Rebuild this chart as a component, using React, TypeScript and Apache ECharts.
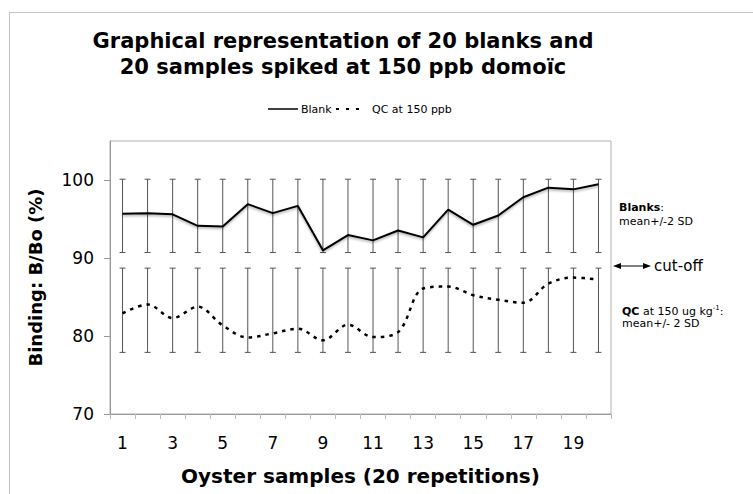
import React, { useEffect, useRef } from "react";
import * as echarts from "echarts";

const categories = ["1","2","3","4","5","6","7","8","9","10","11","12","13","14","15","16","17","18","19","20"];
const blankMean = [95.66, 95.75, 95.6, 94.13, 94.04, 96.9, 95.75, 96.68, 90.98, 92.94, 92.26, 93.53, 92.64, 96.2, 94.26, 95.45, 97.79, 99.02, 98.8, 99.45];
const qcMean = [82.9, 84.04, 82.3, 83.75, 81.36, 79.8, 80.34, 80.94, 79.45, 81.45, 79.87, 80.5, 86.09, 86.34, 85.23, 84.64, 84.26, 86.72, 87.49, 87.23];
const blankBand = [90.7, 100.1];
const qcBand = [77.9, 88.7];
const yTicks = { min: 70, max: 105, interval: 10 };

const FONT = "DejaVu Sans, Verdana, sans-serif";

export default function App() {
  const ref = useRef<HTMLDivElement>(null);
  useEffect(() => {
    if (!ref.current) return;
    const chart = echarts.init(ref.current, undefined, { renderer: "svg" });
    const errData = (band: number[]) => categories.map((_, i) => [i, band[0], band[1]]);
    const renderErr = (params: any, api: any) => {
      const i = api.value(0);
      const lo = api.coord([i, api.value(1)]);
      const hi = api.coord([i, api.value(2)]);
      const w = 3;
      const style = { stroke: "#555", lineWidth: 1 };
      return {
        type: "group",
        children: [
          { type: "line", shape: { x1: lo[0], y1: lo[1], x2: hi[0], y2: hi[1] }, style },
          { type: "line", shape: { x1: lo[0] - w, y1: lo[1], x2: lo[0] + w, y2: lo[1] }, style },
          { type: "line", shape: { x1: hi[0] - w, y1: hi[1], x2: hi[0] + w, y2: hi[1] }, style },
        ],
      };
    };
    chart.setOption({
      animation: false,
      grid: {
        left: 110, top: 141, right: 142, bottom: 80, show: true, borderColor: "#b0b0b0", borderWidth: 1,
        backgroundColor: "transparent", outerBoundsMode: "none", containLabel: false,
      },
      xAxis: {
        type: "category",
        data: categories,
        boundaryGap: true,
        name: "Oyster samples (20 repetitions)",
        nameLocation: "middle",
        nameGap: 52,
        nameTextStyle: { fontFamily: FONT, fontWeight: "bold", fontSize: 20, color: "#000" },
        axisLine: { lineStyle: { color: "#999" } },
        axisTick: { show: true, interval: 0, length: 5, lineStyle: { color: "#bbb" } },
        axisLabel: { interval: 1, fontFamily: FONT, fontSize: 17, color: "#000", margin: 20 },
      },
      yAxis: {
        type: "value",
        min: yTicks.min,
        max: yTicks.max,
        interval: yTicks.interval,
        name: "Binding: B/Bo (%)",
        nameLocation: "middle",
        nameGap: 66,
        nameTextStyle: { fontFamily: FONT, fontWeight: "bold", fontSize: 18, color: "#000" },
        axisLine: { show: true, lineStyle: { color: "#999" } },
        axisTick: { show: true, length: 6, lineStyle: { color: "#999" } },
        axisLabel: { fontFamily: FONT, fontSize: 17, color: "#000", margin: 16, showMaxLabel: false },
        splitLine: { show: false },
      },
      series: [
        { type: "custom", data: errData(blankBand), encode: { x: 0, y: [1, 2] }, renderItem: renderErr, z: 1 },
        { type: "custom", data: errData(qcBand), encode: { x: 0, y: [1, 2] }, renderItem: renderErr, z: 1 },
        {
          type: "line", name: "Blank", data: blankMean, showSymbol: false, z: 3,
          lineStyle: { color: "#000", width: 2, shadowColor: "rgba(0,0,0,0.35)", shadowBlur: 2, shadowOffsetY: 1.5 },
        },
        {
          type: "line", name: "QC at 150 ppb", data: qcMean, showSymbol: false, smooth: 0.35, z: 3,
          lineStyle: { color: "#000", width: 2.5, type: [3.5, 5] },
        },
      ],
      graphic: [
        { type: "line", shape: { x1: 9.5, y1: 12, x2: 9.5, y2: 494 }, style: { stroke: "#c4c4c4", lineWidth: 1 } },
        { type: "line", shape: { x1: 9, y1: 12.5, x2: 753, y2: 12.5 }, style: { stroke: "#c4c4c4", lineWidth: 1 } },
        {
          type: "text", x: 343, y: 54,
          style: {
            text: "Graphical representation of 20 blanks and\n20 samples spiked at 150 ppb domoïc",
            font: `bold 21px ${FONT}`, fill: "#000", textAlign: "center", textVerticalAlign: "middle", lineHeight: 26,
          },
        },
        { type: "line", shape: { x1: 268, y1: 109, x2: 298, y2: 109 }, style: { stroke: "#000", lineWidth: 1.5 } },
        { type: "text", x: 301, y: 109, style: { text: "Blank", font: `11px ${FONT}`, fill: "#000", textVerticalAlign: "middle" } },
        { type: "line", shape: { x1: 336, y1: 109, x2: 362, y2: 109 }, style: { stroke: "#000", lineWidth: 2, lineDash: [3, 7] } },
        { type: "text", x: 372, y: 109, style: { text: "QC at 150 ppb", font: `11px ${FONT}`, fill: "#000", textVerticalAlign: "middle" } },
        {
          type: "text", x: 619, y: 207,
          style: { text: "{b|Blanks}:", font: `11px ${FONT}`, fill: "#000", textVerticalAlign: "middle", rich: { b: { fontWeight: "bold", fontSize: 11, fontFamily: FONT } } },
        },
        { type: "text", x: 619, y: 221, style: { text: "mean+/-2 SD", font: `11px ${FONT}`, fill: "#000", textVerticalAlign: "middle" } },
        { type: "line", shape: { x1: 618, y1: 266, x2: 646, y2: 266 }, style: { stroke: "#000", lineWidth: 1 } },
        { type: "polygon", shape: { points: [[613, 266], [621, 263], [621, 269]] }, style: { fill: "#000" } },
        { type: "polygon", shape: { points: [[651, 266], [643, 263], [643, 269]] }, style: { fill: "#000" } },
        { type: "text", x: 654, y: 266, style: { text: "cut-off", font: `15px ${FONT}`, fill: "#000", textVerticalAlign: "middle" } },
        {
          type: "text", x: 622, y: 311,
          style: {
            text: "{b|QC} at 150 ug kg{s|-1}:", font: `11px ${FONT}`, fill: "#000", textVerticalAlign: "middle",
            rich: { b: { fontWeight: "bold", fontSize: 11, fontFamily: FONT }, s: { fontSize: 7, fontFamily: FONT, verticalAlign: "top", padding: [0, 0, 6, 0] } },
          },
        },
        { type: "text", x: 622, y: 323, style: { text: "mean+/- 2 SD", font: `11px ${FONT}`, fill: "#000", textVerticalAlign: "middle" } },
      ],
    });
    return () => chart.dispose();
  }, []);
  return <div ref={ref} style={{ width: 753, height: 494, position: "absolute", left: 0, top: 0 }} />;
}
